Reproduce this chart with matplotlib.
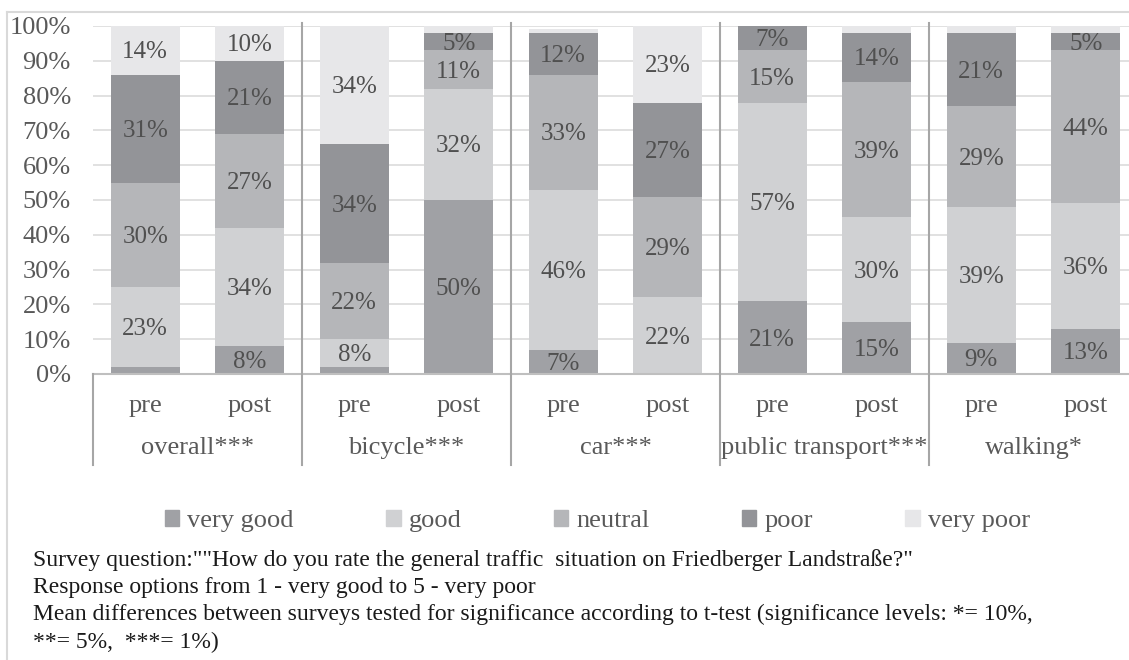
import matplotlib
matplotlib.use("Agg")
import matplotlib.pyplot as plt
from matplotlib.patches import Rectangle
from matplotlib.lines import Line2D
import numpy as np

plt.rcParams['font.family'] = ['Liberation Serif', 'DejaVu Serif']

groups = ["overall***", "bicycle***", "car***", "public transport***", "walking*"]
phases = ["pre", "post"]
series_names = ["very good", "good", "neutral", "poor", "very poor"]

very_good = [2, 8, 2, 50, 7, 0, 21, 15, 9, 13]
good      = [23, 34, 8, 32, 46, 22, 57, 30, 39, 36]
neutral   = [30, 27, 22, 11, 33, 29, 15, 39, 29, 44]
poor      = [31, 21, 34, 5, 12, 27, 7, 14, 21, 5]
very_poor = [14, 10, 34, 2, 1, 23, 0, 2, 2, 2]

notes = [
    'Survey question:""How do you rate the general traffic  situation on Friedberger Landstraße?"',
    'Response options from 1 - very good to 5 - very poor',
    'Mean differences between surveys tested for significance according to t-test (significance levels: *= 10%,',
    '**= 5%,  ***= 1%)',
]

colors = ["#a0a1a5", "#d0d1d3", "#b5b6b9", "#939498", "#e7e7e9"]
label_color = "#505050"
tick_color = "#595959"

W, H = 1129, 660
fig = plt.figure(figsize=(W / 100, H / 100), dpi=100)

# light frame
fig.add_artist(Line2D([7 / W, 7 / W], [0, 1 - 12 / H], transform=fig.transFigure, color="#d9d9d9", lw=1.5))
fig.add_artist(Line2D([7 / W, 1], [1 - 12 / H, 1 - 12 / H], transform=fig.transFigure, color="#d9d9d9", lw=1.5))

ax_left, ax_right = 93, 1138
ax_top, ax_bottom = 26, 374
ax = fig.add_axes([ax_left / W, 1 - ax_bottom / H, (ax_right - ax_left) / W, (ax_bottom - ax_top) / H])

data = [very_good, good, neutral, poor, very_poor]
n = len(very_good)
x = np.arange(n)
bottom = np.zeros(n)
for vals, col, name in zip(data, colors, series_names):
    vals = np.array(vals, dtype=float)
    ax.bar(x, vals, width=0.66, bottom=bottom, color=col, label=name, zorder=2)
    for xi, b, v in zip(x, bottom, vals):
        if v >= 4:
            yc = (b + min(b + v, 100)) / 2
            ax.text(xi, yc - 0.6, f"{int(round(v))}%", ha="center", va="center",
                    fontsize=18, color=label_color, zorder=3)
    bottom = bottom + vals

ax.set_xlim(-0.5, n - 0.5)
ax.set_ylim(0, 100)
ax.set_yticks(np.arange(0, 101, 10))
ax.set_yticklabels([f"{v}%" for v in range(0, 101, 10)])
ax.tick_params(axis="y", length=0, pad=16, labelsize=19, labelcolor=tick_color)
ax.tick_params(axis="x", length=0, labelbottom=False)
ax.grid(axis="y", color="#dedede", lw=1.3, zorder=0)
ax.set_axisbelow(True)
for s in ["top", "right", "left"]:
    ax.spines[s].set_visible(False)
ax.spines["bottom"].set_color("#bfbfbf")
ax.spines["bottom"].set_linewidth(1.5)
ax.spines["bottom"].set_zorder(4)

ph = ax_bottom - ax_top
ymin_sep = -(465 - ax_bottom) / ph
ymax_sep = 1 + 3 / ph
for k in range(1, len(groups)):
    ax.axvline(2 * k - 0.5, ymin=ymin_sep, ymax=ymax_sep, color="#a6a6a6", lw=1.5, clip_on=False, zorder=5)
ax.axvline(-0.5, ymin=ymin_sep, ymax=0, color="#a6a6a6", lw=1.5, clip_on=False, zorder=5)

trans = ax.get_xaxis_transform()
for i in range(n):
    ax.text(i, -(406 - ax_bottom) / ph, phases[i % 2], transform=trans, ha="center", va="center",
            fontsize=19, color=tick_color)
for g, name in enumerate(groups):
    ax.text(2 * g + 0.5, -(448 - ax_bottom) / ph, name, transform=trans, ha="center", va="center",
            fontsize=19, color=tick_color)

handles = [Rectangle((0, 0), 1, 1, color=c) for c in colors]
fig.legend(handles, series_names, loc="center", bbox_to_anchor=(0.529, 1 - 521 / H), ncol=5,
           frameon=False, fontsize=19, handlelength=0.55, handleheight=0.55, handletextpad=0.3,
           columnspacing=3.5, labelcolor=tick_color)

for i, line in enumerate(notes):
    fig.text(33 / W, 1 - (560 + 27.4 * i) / H, line, ha="left", va="center", fontsize=17, color="#1a1a1a")

fig.savefig("out.png", dpi=100)
